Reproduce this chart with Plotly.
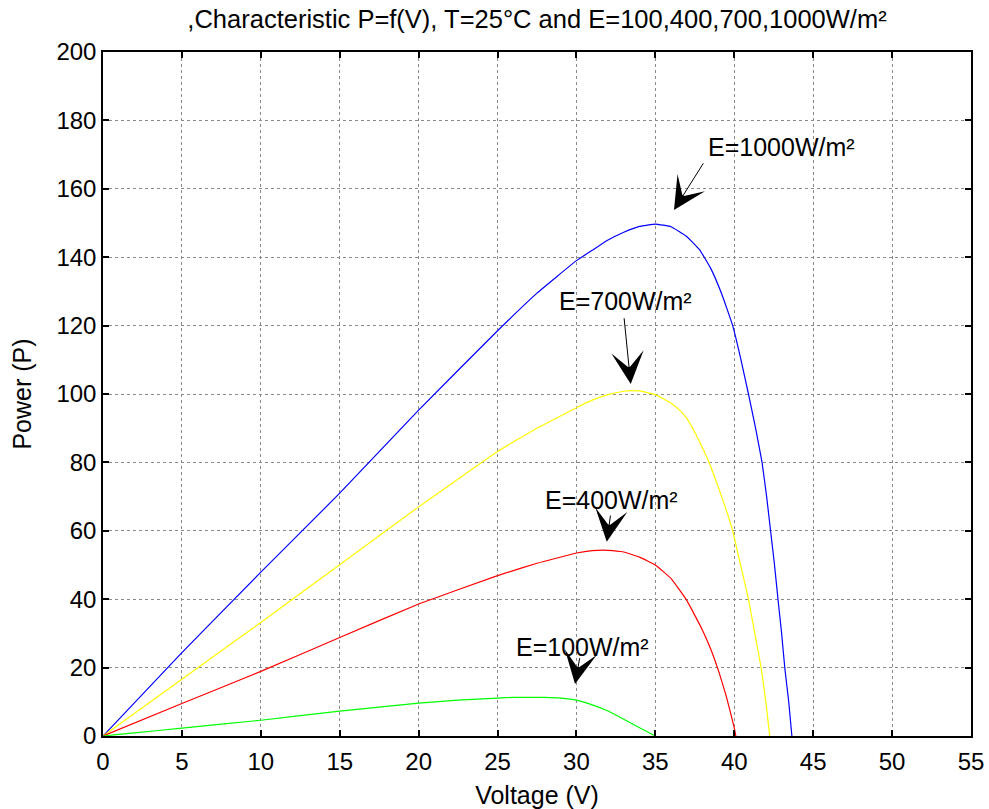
import plotly.graph_objects as go

# ---- data ----
v_1000 = [0, 5, 10, 15, 20, 25, 27.5, 30, 31, 32, 33, 34, 35, 36, 37, 37.8, 38.5, 39.2, 39.9, 40.4, 40.9,
          41.35, 41.76, 42.05, 42.3, 42.55, 42.77, 43.0, 43.2, 43.45, 43.65]
p_1000 = [0, 24.4, 47.9, 71, 95.3, 118.5, 129.5, 139, 142, 145, 147.3, 149, 149.7, 148.9, 146, 142.2, 136.8, 129.3,
          120, 110.5, 100, 90, 80, 70, 60, 50, 40, 30, 20, 10, 0]

v_700 = [0, 5, 10, 15, 20, 25, 27.5, 30, 31, 32, 33, 33.5, 34, 35, 36, 36.6, 37, 37.7, 38.4, 39.2, 39.9, 40.4,
         40.9, 41.3, 41.7, 42.0, 42.25]
p_700 = [0, 16.6, 33.2, 50.1, 67, 83.2, 90, 96, 98.2, 99.8, 100.8, 101, 100.9, 99.8, 97.3, 95, 92.8, 87, 80, 70,
         60, 50, 40, 30, 20, 10, 0]

v_400 = [0, 5, 10, 15, 20, 25, 27.5, 30, 31, 32, 33, 34, 35, 36, 37, 38, 38.5, 39, 39.5, 40, 40.1]
p_400 = [0, 9.5, 18.9, 28.8, 38.6, 46.9, 50.5, 53.5, 54.2, 54.3, 53.8, 52.3, 50, 46, 39.6, 30.8, 25.5, 19.1,
         11.5, 2.4, 0]

v_100 = [0, 1, 2, 5, 10, 15, 20, 22.5, 25, 26, 28, 29, 30, 31, 32, 33, 34, 35]
p_100 = [0, 0.5, 0.9, 2.3, 4.6, 7.3, 9.6, 10.5, 11.1, 11.3, 11.3, 11.1, 10.5, 9.1, 7.3, 4.9, 2.4, 0]

x_ticks = list(range(0, 56, 5))
y_ticks = list(range(0, 201, 20))

# annotation labels: text position, arrow tail, arrow tip (data coords)
labels = ["E=1000W/m²", "E=700W/m²", "E=400W/m²", "E=100W/m²"]
label_xy = [(43.0, 172.2), (33.08, 127.2), (32.19, 69.0), (30.41, 26.0)]
arrow_tail = [(38.1, 167.9), (33.01, 122.6), (32.17, 64.9), (30.22, 23.2)]
arrow_tip = [(36.18, 153.8), (33.44, 102.9), (31.92, 56.8), (29.91, 15.2)]

FONT = "Liberation Sans, Arial, sans-serif"

fig = go.Figure()
series = [
    (v_1000, p_1000, "#0000FF", "E=1000W/m²"),
    (v_700, p_700, "#FFFF00", "E=700W/m²"),
    (v_400, p_400, "#FF0000", "E=400W/m²"),
    (v_100, p_100, "#00FF00", "E=100W/m²"),
]
for vx, py, col, nm in series:
    fig.add_trace(go.Scatter(x=vx, y=py, mode="lines", name=nm,
                             line=dict(color=col, width=1.2, shape="spline", smoothing=0.3)))

annotations = []
for txt, (tx, ty), (ax, ay), (hx, hy) in zip(labels, label_xy, arrow_tail, arrow_tip):
    annotations.append(dict(x=hx, y=hy, ax=ax, ay=ay, xref="x", yref="y", axref="x", ayref="y",
                            text="", showarrow=True, arrowhead=3, arrowsize=5.4, arrowwidth=1,
                            arrowcolor="black", standoff=0))
    annotations.append(dict(x=tx, y=ty, xref="x", yref="y", text=txt, showarrow=False,
                            font=dict(family=FONT, size=25, color="black"),
                            xanchor="center", yanchor="middle"))

fig.update_layout(
    width=989, height=809,
    margin=dict(l=103, r=18, t=52, b=73, autoexpand=False),
    paper_bgcolor="white", plot_bgcolor="white",
    showlegend=False,
    font=dict(family=FONT, size=24, color="black"),
    title=dict(text=",Characteristic P=f(V), T=25°C and E=100,400,700,1000W/m²",
               x=0.5, xref="paper", xanchor="center",
               y=1 - 19 / 809, yref="container", yanchor="middle",
               font=dict(family=FONT, size=25.5, color="black"), automargin=False),
    annotations=annotations,
)
fig.update_xaxes(
    range=[0, 55], tickmode="array", tickvals=x_ticks, ticktext=[str(t) for t in x_ticks],
    showline=True, linecolor="black", linewidth=1.5, mirror="ticks",
    ticks="inside", ticklen=6, tickcolor="black", tickwidth=1.5, ticklabelstandoff=3,
    showgrid=True, gridcolor="#8a8a8a", griddash="dot", gridwidth=1,
    zeroline=False, tickfont=dict(family=FONT, size=24), automargin=False,
    title=dict(text="Voltage (V)", font=dict(family=FONT, size=25), standoff=14),
)
fig.update_yaxes(
    range=[0, 200], tickmode="array", tickvals=y_ticks, ticktext=[str(t) for t in y_ticks],
    showline=True, linecolor="black", linewidth=1.5, mirror="ticks",
    ticks="inside", ticklen=6, tickcolor="black", tickwidth=1.5,
    showgrid=True, gridcolor="#8a8a8a", griddash="dot", gridwidth=1,
    zeroline=False, tickfont=dict(family=FONT, size=24), automargin=False,
    title=dict(text="Power (P)", font=dict(family=FONT, size=25), standoff=18),
)

fig.write_html("out.html", config={"displayModeBar": False},
               post_script="document.body.style.margin='0';document.body.style.overflow='hidden';")
